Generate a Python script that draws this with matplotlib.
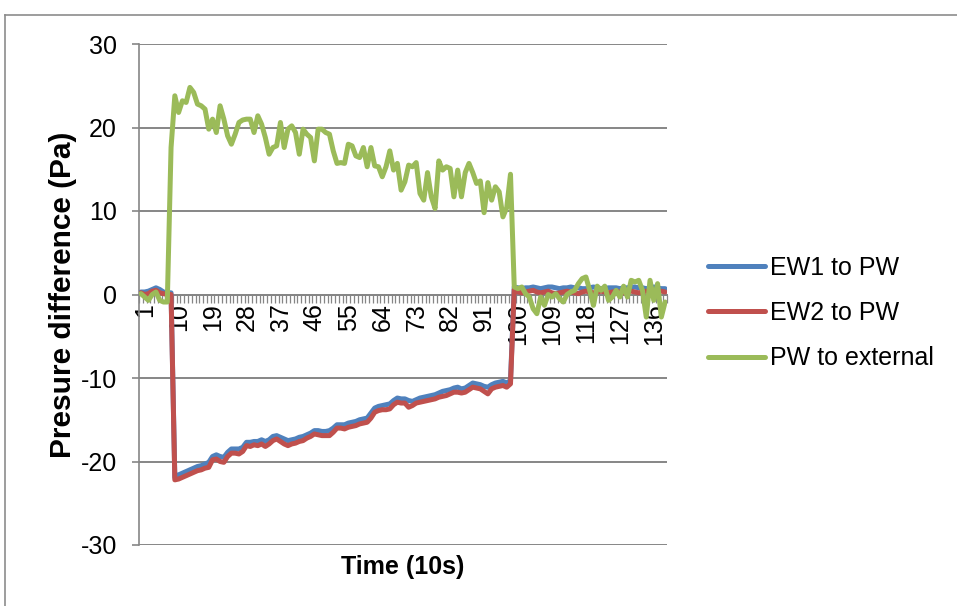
import matplotlib
matplotlib.use("Agg")
import matplotlib.pyplot as plt
from matplotlib.lines import Line2D
import matplotlib.transforms as mtransforms
import numpy as np

plt.rcParams['font.family'] = ['Liberation Sans', 'DejaVu Sans']

series_names = ["EW1 to PW", "EW2 to PW", "PW to external"]
colors = ["#4F81BD", "#C0504D", "#9BBB59"]

ew1_to_pw = [
    0.3, 0.3, 0.4, 0.6, 0.8, 0.6, 0.3, 0.2, 0.2,
    -21.9, -21.6, -21.4, -21.2, -21.0, -20.8, -20.6, -20.5, -20.3, -20.1,
    -19.4, -19.2, -19.4, -19.5, -18.9, -18.5, -18.5, -18.5, -18.3, -17.7,
    -17.7, -17.6, -17.6, -17.4, -17.6, -17.4, -17.0, -16.9, -17.1, -17.3,
    -17.5, -17.4, -17.3, -17.1, -17.0, -16.8, -16.6, -16.3, -16.3, -16.4,
    -16.4, -16.3, -16.0, -15.6, -15.6, -15.6, -15.4, -15.3, -15.2, -15.0,
    -14.9, -14.8, -14.2, -13.6, -13.4, -13.3, -13.2, -13.1, -12.7, -12.4,
    -12.5, -12.5, -12.7, -12.8, -12.6, -12.4, -12.3, -12.2, -12.1, -12.0,
    -11.8, -11.6, -11.5, -11.4, -11.2, -11.1, -11.3, -11.2, -10.9, -10.6,
    -10.7, -10.8, -11.0, -11.1, -10.8, -10.6, -10.5, -10.4, -10.6, -10.3,
    0.9, 0.8, 0.7, 0.8, 0.8, 0.9, 0.8, 0.7, 0.8, 0.9, 0.9, 0.8, 0.7, 0.8,
    0.8, 0.9, 0.8, 0.8, 0.7, 0.7, 0.8, 0.9, 0.8, 0.7, 0.7, 0.8, 0.8, 0.8,
    0.7, 0.8, 0.8, 0.9, 0.9, 0.8, 0.8, 0.7, 0.8, 0.9, 0.8, 0.7, 0.7,
]

ew2_to_pw = [
    0.2, 0.0, 0.1, 0.4, 0.5, 0.2, 0.1, 0.0, 0.0,
    -22.2, -22.1, -21.9, -21.7, -21.5, -21.3, -21.1, -21.0, -20.8, -20.7,
    -19.8, -19.7, -20.0, -20.1, -19.4, -19.0, -19.0, -19.1, -18.8, -18.1,
    -18.2, -18.0, -18.1, -17.9, -18.2, -17.9, -17.5, -17.3, -17.6, -17.9,
    -18.1, -17.9, -17.8, -17.6, -17.5, -17.2, -17.0, -16.7, -16.8, -16.9,
    -16.9, -16.9, -16.5, -16.0, -16.0, -16.1, -15.9, -15.8, -15.7, -15.5,
    -15.4, -15.3, -14.8, -14.1, -13.9, -13.8, -13.8, -13.7, -13.2, -12.9,
    -13.0, -13.0, -13.5, -13.3, -13.0, -12.9, -12.8, -12.7, -12.6, -12.5,
    -12.3, -12.2, -12.1, -11.9, -11.7, -11.7, -11.8, -11.7, -11.4, -11.1,
    -11.2, -11.3, -11.6, -11.9, -11.3, -11.1, -11.0, -10.9, -11.1, -10.7,
    0.6, 0.3, 0.2, 0.3, 0.4, 0.5, 0.3, 0.2, 0.3, 0.4, 0.2, 0.1, 0.2, 0.3,
    0.4, 0.3, 0.2, 0.1, 0.3, 0.4, 0.3, 0.2, 0.3, 0.4, 0.3, 0.2, 0.3, 0.4,
    0.3, 0.2, 0.3, 0.4, 0.3, 0.2, 0.3, 0.4, 0.3, 0.2, 0.3, 0.4, 0.3,
]

pw_to_external = [
    0.1, -0.3, -0.7, 0.0, 0.3, -0.7, -0.9, -0.9,
    17.6, 23.8,
    21.8, 23.2, 23.0, 24.8, 24.2, 22.8, 22.6, 22.2, 19.8, 21.0, 19.4, 22.6,
    21.0, 19.0, 18.0, 19.2, 20.6, 20.9, 21.0, 21.0, 19.4, 21.4, 20.4, 18.8,
    16.8, 17.6, 17.8, 20.6, 17.6, 19.8, 20.2, 19.4, 16.8, 19.8, 19.2, 18.8, 16.0,
    19.8, 19.8, 19.4, 19.2, 17.2, 15.7, 15.8, 15.7, 18.0, 17.8, 16.6, 16.4,
    17.6, 15.3, 17.6, 15.4, 15.3, 14.1, 15.3, 17.2, 14.9, 15.7, 12.5, 13.5,
    15.5, 15.3, 15.8, 12.1, 11.3, 14.6, 11.7, 10.3, 16.0, 14.9, 15.3, 15.1,
    11.7, 14.9, 11.7, 14.6, 15.7, 14.6, 13.3, 13.6, 9.8, 13.4, 11.3,
    12.9, 12.3, 9.3, 10.4, 14.4,
    0.9, 0.7, 0.9, 0.1, -0.3, -1.7, -2.3, -0.3, -1.3, 0.0, -0.3, 0.1, -0.5,
    -0.9, 0.0, 0.3, 0.5, 1.3, 1.9, 2.1, 0.5, -1.3, 1.0, 0.5, 1.0, -0.7, -0.3,
    0.5, -0.3, 1.0, -0.3, 1.7, 1.5, 1.7, 0.5, -2.7, 1.7, -0.7, 1.3,
    -2.7, -0.9,
]

y_ticks = [-30, -20, -10, 0, 10, 20, 30]
x_label_step = 9
x_title = "Time (10s)"
y_title = "Presure difference (Pa)"

n = len(pw_to_external)
cats = np.arange(1, n + 1)

FS = 18

fig = plt.figure(figsize=(9.57, 6.06), dpi=100)
W, H = 957, 606

# outer chart border (left and top visible)
fig.add_artist(Line2D([5 / W, 5 / W], [0, 1 - 15 / H], transform=fig.transFigure,
                      color="#8c8c8c", lw=1.2))
fig.add_artist(Line2D([5 / W, 1], [1 - 15 / H, 1 - 15 / H], transform=fig.transFigure,
                      color="#8c8c8c", lw=1.2))

ax = fig.add_axes([139 / W, 1 - 545 / H, 528 / W, 501 / H])
grid_c = "#868686"

for vals, c, name in zip([ew1_to_pw, ew2_to_pw, pw_to_external], colors, series_names):
    ax.plot(cats, vals, color=c, lw=3.6, solid_joinstyle="round",
            solid_capstyle="round", label=name, zorder=3)

ax.set_xlim(0.5, n + 0.5)
ax.set_ylim(-30, 30)
ax.set_yticks(y_ticks)
ax.set_yticklabels([str(v) for v in y_ticks], fontsize=FS)
ax.yaxis.grid(True, color=grid_c, lw=1.4, zorder=0)
ax.set_axisbelow(True)

for s in ["top", "right"]:
    ax.spines[s].set_visible(False)
ax.spines["left"].set_color(grid_c)
ax.spines["left"].set_linewidth(1.2)
ax.spines["bottom"].set_position(("data", 0))
ax.spines["bottom"].set_color(grid_c)
ax.spines["bottom"].set_linewidth(1.4)

label_pos = cats[::x_label_step]
ax.set_xticks(label_pos)
ax.set_xticklabels([str(v) for v in label_pos], rotation=90, fontsize=FS)
ax.set_xticks(np.arange(0.5, n + 1, 1.0), minor=True)
ax.tick_params(axis="x", which="major", length=0, pad=6)
ax.tick_params(axis="x", which="minor", length=6, width=0.9, color=grid_c, direction="out")
ax.tick_params(axis="y", which="major", length=5, width=1.2, color=grid_c, pad=11)

shift = mtransforms.ScaledTranslation(4 / 100, 0, fig.dpi_scale_trans)
for lbl in ax.get_xticklabels():
    lbl.set_transform(lbl.get_transform() + shift)

ax.set_xlabel(x_title, fontsize=FS, fontweight="bold")
ax.xaxis.set_label_coords(0.5, -0.02)
ax.set_ylabel(y_title, fontsize=21.5, fontweight="bold")
ax.yaxis.set_label_coords(-(139 - 77) / 528, 0.5)

leg = fig.legend(handles=ax.get_lines(), labels=series_names, loc="center left",
                 bbox_to_anchor=(685 / W, 1 - 313 / H), frameon=False,
                 fontsize=FS, handlelength=2.3, labelspacing=0.85, handletextpad=0.2)

fig.savefig("out.png", dpi=100)
